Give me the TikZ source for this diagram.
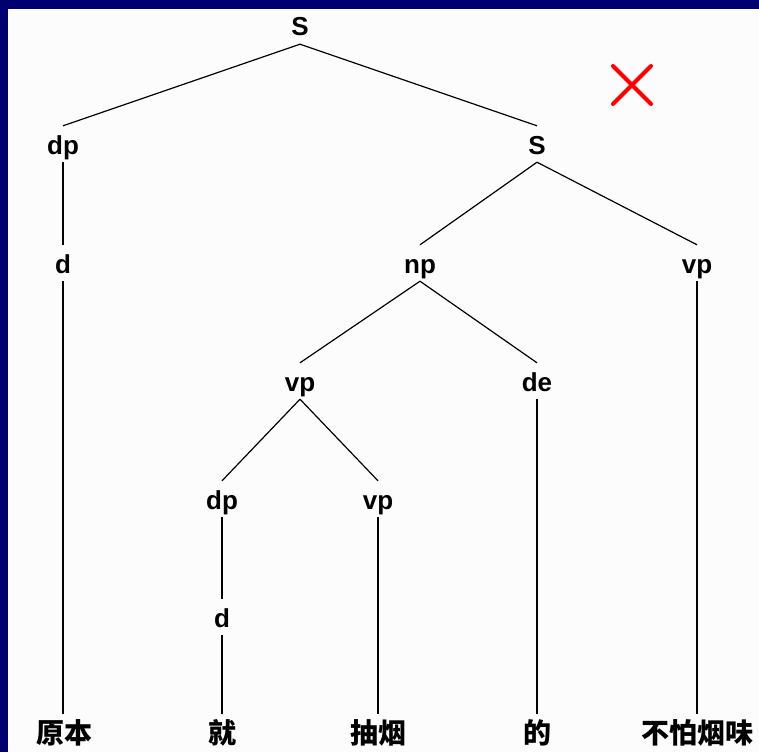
\documentclass[tikz,border=0pt]{standalone}
\usepackage{fontspec}
\setmainfont{Liberation Sans}
\newfontfamily\cjk{Noto Sans CJK SC}
\definecolor{navy}{RGB}{0,0,112}
\definecolor{bg}{RGB}{252,252,252}
\begin{document}
\begin{tikzpicture}[x=1pt,y=-1pt,
  lab/.style={font=\fontsize{26}{30}\selectfont\bfseries, anchor=base, inner xsep=2pt, inner ysep=3pt, text height=25pt, text depth=5pt},
  leaf/.style={font=\cjk\bfseries\fontsize{28}{32}\selectfont, anchor=base, inner xsep=0pt, inner ysep=3pt, text height=26pt, text depth=2pt},
  branch/.style={draw=black, line width=1.2pt},
  cross/.style={draw=red, line width=4pt, line cap=round}]
\useasboundingbox (0,0) rectangle (759,752);
\fill[bg] (0,0) rectangle (759,752);
\fill[navy] (0,0) rectangle (759,9);
\fill[navy] (0,0) rectangle (8,752);

\node[lab] (s0) at (300,36) {S};
\node[lab] (dp1) at (63,154) {dp};
\node[lab] (s1) at (537,154) {S};
\node[lab] (d1) at (63,273) {d};
\node[lab] (np) at (420,273) {np};
\node[lab] (vp1) at (697,273) {vp};
\node[lab] (vp2) at (300,391) {vp};
\node[lab] (de) at (537,391) {de};
\node[lab] (dp2) at (222,509) {dp};
\node[lab] (vp3) at (378,509) {vp};
\node[lab] (d2) at (222,627) {d};

\node[leaf] (w1) at (64,743) {原本};
\node[leaf] (w2) at (222,743) {就};
\node[leaf] (w3) at (378,743) {抽烟};
\node[leaf] (w4) at (537,743) {的};
\node[leaf] (w5) at (697,743) {不怕烟味};

\draw[branch] (s0.south) -- (dp1.north);
\draw[branch] (s0.south) -- (s1.north);
\draw[branch] (dp1.south) -- (d1.north);
\draw[branch] (d1.south) -- (d1.south |- w1.north);
\draw[branch] (s1.south) -- (np.north);
\draw[branch] (s1.south) -- (vp1.north);
\draw[branch] (vp1.south) -- (vp1.south |- w5.north);
\draw[branch] (np.south) -- (vp2.north);
\draw[branch] (np.south) -- (de.north);
\draw[branch] (de.south) -- (w4.north);
\draw[branch] (vp2.south) -- (dp2.north);
\draw[branch] (vp2.south) -- (vp3.north);
\draw[branch] (dp2.south) -- (d2.north);
\draw[branch] (d2.south) -- (w2.north);
\draw[branch] (vp3.south) -- (w3.north);

\draw[cross] (613,66) -- (651,104);
\draw[cross] (613,104) -- (651,66);
\end{tikzpicture}
\end{document}
